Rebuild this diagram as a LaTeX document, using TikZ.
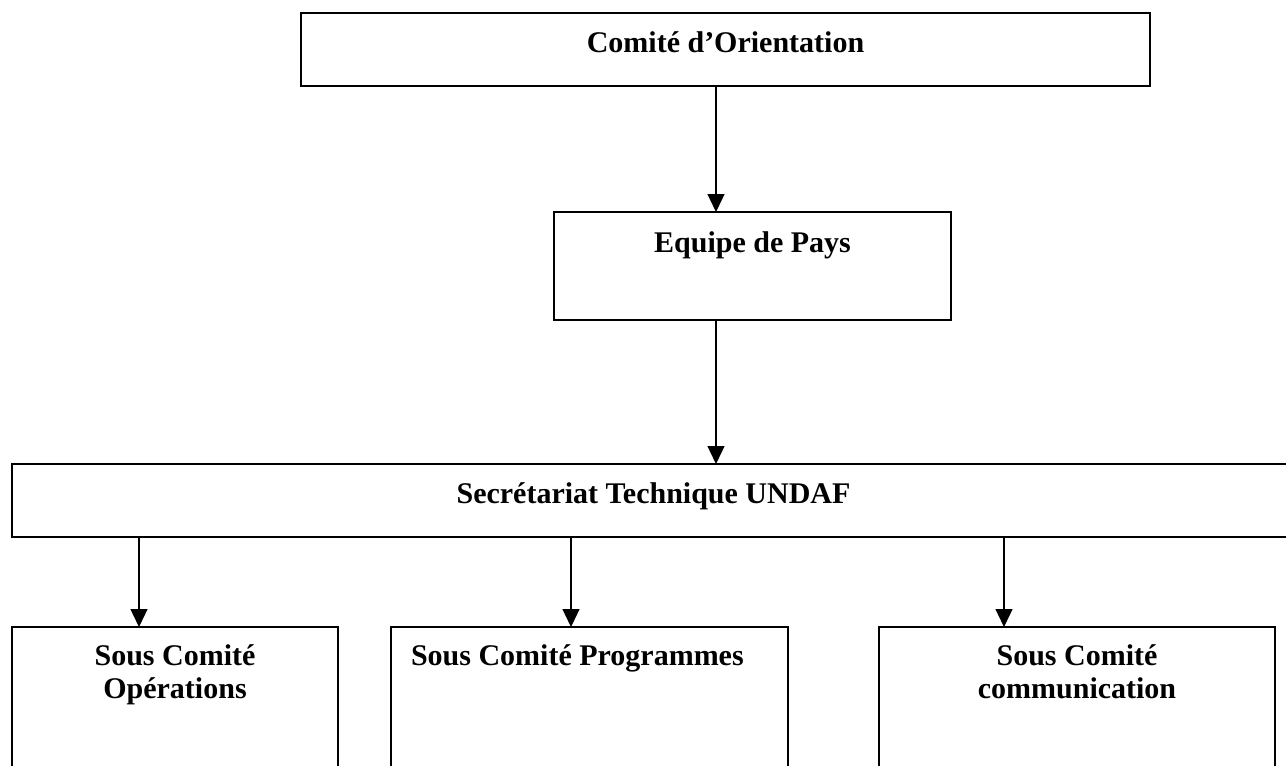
\documentclass[tikz,border=0pt]{standalone}
\usepackage{fontspec}
\setmainfont{Liberation Serif}
\usetikzlibrary{arrows.meta}
\begin{document}
\begin{tikzpicture}[x=1pt,y=-1pt,
  box/.style={draw=black,line width=1.7pt,rectangle,inner sep=0pt,outer sep=0pt},
  lbl/.style={inner sep=0pt,outer sep=0pt,anchor=base,font=\fontsize{30}{33}\selectfont\bfseries},
  arr/.style={draw=black,line width=1.3pt,-{Triangle[length=18pt,width=17pt]}}]
\useasboundingbox (0,0) rectangle (1286,766);
\clip (0,0) rectangle (1286,766);
\fill[white] (0,0) rectangle (1286,766);
% boxes
\node[box,minimum width=849pt,minimum height=73pt] (co) at (725.5,49.5) {};
\node[box,minimum width=397pt,minimum height=108pt] (eq) at (752.5,266) {};
\node[box,minimum width=1290pt,minimum height=73pt] (st) at (657,500.5) {};
\node[box,minimum width=326pt,minimum height=200pt] (b1) at (175,727) {};
\node[box,minimum width=397pt,minimum height=200pt] (b2) at (589.5,727) {};
\node[box,minimum width=396pt,minimum height=200pt] (b3) at (1077,727) {};
% labels
\node[lbl] (tco) at (725.5,52) {Comité d’Orientation};
\node[lbl] (teq) at (752.5,252) {Equipe de Pays};
\node[lbl] (tst) at (653.5,503) {Secrétariat Technique UNDAF};
\node[lbl] (tb1a) at (175,665) {Sous Comité};
\node[lbl] (tb1b) at (175,698) {Opérations};
\node[lbl,anchor=base west] (tb2) at (411,665) {Sous Comité Programmes};
\node[lbl] (tb3a) at (1077,665) {Sous Comité};
\node[lbl] (tb3b) at (1077,698) {communication};
% connectors
\coordinate (xm) at (716,0);
\coordinate (x1) at (139,0);
\coordinate (x2) at (571,0);
\coordinate (x3) at (1004,0);
\draw[arr] (xm |- co.south) -- (xm |- eq.north);
\draw[arr] (xm |- eq.south) -- (xm |- st.north);
\draw[arr] (x1 |- st.south) -- (x1 |- b1.north);
\draw[arr] (x2 |- st.south) -- (x2 |- b2.north);
\draw[arr] (x3 |- st.south) -- (x3 |- b3.north);
\end{tikzpicture}
\end{document}
